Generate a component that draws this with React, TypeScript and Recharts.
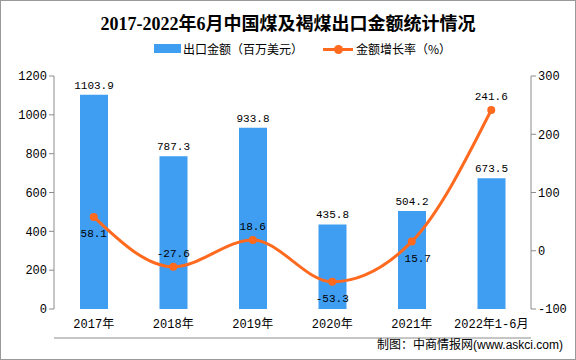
import React from "react";
import {
  ComposedChart,
  Bar,
  Line,
  XAxis,
  YAxis,
  LabelList,
} from "recharts";

const categories = ["2017年", "2018年", "2019年", "2020年", "2021年", "2022年1-6月"];
const exportValue = [1103.9, 787.3, 933.8, 435.8, 504.2, 673.5];
const growthRate = [58.1, -27.6, 18.6, -53.3, 15.7, 241.6];
const leftTicks = [0, 200, 400, 600, 800, 1000, 1200];
const rightTicks = [-100, 0, 100, 200, 300];
const boundaryTicks = [0, 1, 2, 3, 4, 5, 6];

// where each growth label sits relative to its point
const rateLabelSide = ["below", "above", "above", "below", "below", "above"];

const BAR_COLOR = "#3f9df2";
const LINE_COLOR = "#ff6a1f";
const AXIS_COLOR = "#8c8c8c";
const FONT = '"Liberation Mono", "Noto Sans CJK SC", monospace';
const CJK = '"Noto Sans CJK SC", sans-serif';

const chartData = categories.map((name, i) => ({
  name,
  idx: i + 0.5,
  value: exportValue[i],
  rate: growthRate[i],
}));

function RateLabel(props: any) {
  const { x, y, value, index } = props;
  const below = rateLabelSide[index] === "below";
  return (
    <text
      x={x + (index === 4 ? 6 : 0)}
      y={below ? y + 20 : y - 10}
      textAnchor="middle"
      fontSize={11}
      fontFamily={FONT}
      fill="#000"
    >
      {value}
    </text>
  );
}

export default function App() {
  return (
    <div
      style={{
        position: "absolute",
        left: 0,
        top: 0,
        width: 576,
        height: 360,
        boxSizing: "border-box",
        border: "1px solid #9a9a9a",
        background: "#fff",
        overflow: "hidden",
      }}
    >
      <div
        style={{
          position: "absolute",
          top: 8,
          width: "100%",
          textAlign: "center",
          fontFamily: '"Liberation Serif", "Noto Sans CJK SC", serif',
          fontWeight: "bold",
          fontSize: 18,
          color: "#000",
        }}
      >
        2017-2022年6月中国煤及褐煤出口金额统计情况
      </div>
      <div
        style={{
          position: "absolute",
          top: 39,
          left: 153,
          display: "flex",
          alignItems: "center",
          fontFamily: CJK,
          fontSize: 12,
          color: "#000",
        }}
      >
        <span style={{ display: "inline-block", width: 27, height: 9, background: BAR_COLOR, marginRight: 2 }} />
        <span>出口金额（百万美元）</span>
        <span style={{ position: "relative", display: "inline-block", width: 30, height: 12, marginLeft: 20, marginRight: 3 }}>
          <span style={{ position: "absolute", left: 0, top: 5, width: 30, height: 3, background: LINE_COLOR }} />
          <span style={{ position: "absolute", left: 11, top: 2, width: 9, height: 9, borderRadius: 5, background: LINE_COLOR }} />
        </span>
        <span>金额增长率（%）</span>
      </div>
      <ComposedChart
        width={576}
        height={360}
        data={chartData}
        margin={{ top: 76, right: 0, bottom: 21, left: 0 }}
        style={{ position: "absolute", left: -1, top: -1 }}
      >
        <XAxis
          xAxisId="edge"
          type="number"
          dataKey="idx"
          domain={[0, 6]}
          ticks={boundaryTicks}
          axisLine={{ stroke: AXIS_COLOR }}
          tickLine={{ stroke: AXIS_COLOR }}
          tickSize={5}
          tick={false}
          height={1}
        />
        <XAxis
          dataKey="name"
          xAxisId="cat"
          axisLine={false}
          tickLine={false}
          tick={{ fontSize: 12, fontFamily: FONT, fill: "#000" }}
          tickMargin={4}
          height={29}
          interval={0}
        />
        <YAxis
          yAxisId="left"
          domain={[0, 1200]}
          ticks={leftTicks}
          width={54}
          axisLine={{ stroke: AXIS_COLOR }}
          tickLine={{ stroke: AXIS_COLOR }}
          tickSize={5}
          tick={{ fontSize: 12, fontFamily: FONT, fill: "#000" }}
        />
        <YAxis
          yAxisId="right"
          orientation="right"
          domain={[-100, 300]}
          ticks={rightTicks}
          width={45}
          axisLine={{ stroke: AXIS_COLOR }}
          tickLine={{ stroke: AXIS_COLOR }}
          tickSize={5}
          tick={{ fontSize: 12, fontFamily: FONT, fill: "#000" }}
        />
        <Bar
          dataKey="value"
          xAxisId="cat"
          yAxisId="left"
          fill={BAR_COLOR}
          barSize={28}
          isAnimationActive={false}
        >
          <LabelList
            dataKey="value"
            position="top"
            offset={6}
            style={{ fontSize: 11, fontFamily: FONT, fill: "#000" }}
          />
        </Bar>
        <Line
          dataKey="rate"
          xAxisId="cat"
          yAxisId="right"
          type="monotone"
          stroke={LINE_COLOR}
          strokeWidth={3}
          dot={{ r: 4, fill: LINE_COLOR, stroke: LINE_COLOR, strokeWidth: 0 }}
          isAnimationActive={false}
        >
          <LabelList dataKey="rate" content={RateLabel} />
        </Line>
      </ComposedChart>
      <div
        style={{
          position: "absolute",
          right: 12,
          top: 334,
          fontFamily: CJK,
          fontSize: 12,
          color: "#000",
        }}
      >
        制图：中商情报网<span style={{ fontFamily: '"Liberation Sans", sans-serif' }}>(www.askci.com)</span>
      </div>
    </div>
  );
}
